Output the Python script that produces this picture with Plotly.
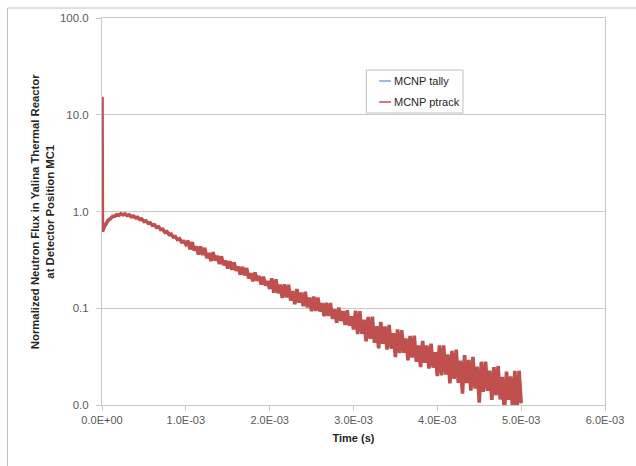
import plotly.graph_objects as go

# ---------------- data ----------------
# sampling of the ptrack series: t = 0, 0.005 ms, then every 0.025 ms up to 5.0 ms
ptrack_time_ms = [0.0, 0.005] + [round(0.025 * k, 3) for k in range(1, 201)]

ptrack_start = [15.3, 0.62]
ptrack_0_1ms = [0.69, 0.75, 0.815, 0.84, 0.89, 0.895, 0.925, 0.915, 0.945, 0.925,
                0.94, 0.91, 0.925, 0.885, 0.90, 0.86, 0.87, 0.825, 0.835, 0.79,
                0.80, 0.755, 0.765, 0.72, 0.73, 0.685, 0.695, 0.65, 0.655, 0.61,
                0.62, 0.578, 0.585, 0.545, 0.552, 0.512, 0.522, 0.484, 0.492, 0.458]
ptrack_1_2ms = [0.498, 0.406, 0.483, 0.395, 0.436, 0.360, 0.435, 0.355, 0.421, 0.330,
                0.373, 0.308, 0.380, 0.311, 0.349, 0.286, 0.344, 0.279, 0.311, 0.257,
                0.307, 0.250, 0.297, 0.244, 0.269, 0.223, 0.268, 0.219, 0.260, 0.204,
                0.230, 0.190, 0.234, 0.192, 0.215, 0.176, 0.212, 0.172, 0.191, 0.158]
ptrack_2_3ms = [0.204, 0.145, 0.199, 0.143, 0.176, 0.128, 0.177, 0.129, 0.175, 0.120,
                0.151, 0.110, 0.158, 0.114, 0.145, 0.105, 0.148, 0.102, 0.129, 0.0932,
                0.132, 0.0935, 0.129, 0.0924, 0.113, 0.0828, 0.114, 0.0830, 0.113, 0.0776,
                0.0976, 0.0707, 0.102, 0.0737, 0.0936, 0.0672, 0.0952, 0.0660, 0.0827, 0.0602]
ptrack_3_4ms = [0.0945, 0.0540, 0.0931, 0.0543, 0.0764, 0.0454, 0.0813, 0.0484, 0.0819, 0.0440,
                0.0651, 0.0386, 0.0722, 0.0429, 0.0648, 0.0374, 0.0674, 0.0382, 0.0553, 0.0313,
                0.0603, 0.0344, 0.0594, 0.0346, 0.0488, 0.0290, 0.0518, 0.0309, 0.0522, 0.0280,
                0.0414, 0.0246, 0.0460, 0.0273, 0.0412, 0.0238, 0.0431, 0.0243, 0.0352, 0.0199]
ptrack_4_5ms = [0.0414, 0.0203, 0.0413, 0.0206, 0.0334, 0.0167, 0.0363, 0.0186, 0.0374, 0.0169,
                0.0288, 0.0131, 0.0328, 0.0168, 0.0293, 0.0141, 0.0315, 0.0148, 0.0250, 0.0106,
                0.0280, 0.0137, 0.0280, 0.0140, 0.0226, 0.0113, 0.0246, 0.0126, 0.0253, 0.0114,
                0.0195, 0.0081, 0.0221, 0.0113, 0.0198, 0.0082, 0.0226, 0.0089, 0.0226, 0.0104]
ptrack_flux = ptrack_start + ptrack_0_1ms + ptrack_1_2ms + ptrack_2_3ms + ptrack_3_4ms + ptrack_4_5ms

tally_time_ms = [0.0, 0.1, 0.25, 0.5, 0.75, 1.0, 1.25, 1.5, 1.75, 2.0, 2.25,
                 2.5, 2.75, 3.0, 3.25, 3.5, 3.75, 4.0, 4.25, 4.5, 4.75, 5.0]
tally_flux = [0.62, 0.851, 0.933, 0.804, 0.624, 0.468, 0.367, 0.289, 0.227, 0.178, 0.143,
              0.115, 0.0924, 0.0743, 0.0594, 0.0474, 0.0379, 0.0302, 0.0248, 0.0204, 0.0168, 0.0138]

series_names = ["MCNP tally", "MCNP ptrack"]
series_colors = ["#7fa6d2", "#c0504d"]

x_tick_vals = [0.0, 0.001, 0.002, 0.003, 0.004, 0.005, 0.006]
x_tick_text = ["0.0E+00", "1.0E-03", "2.0E-03", "3.0E-03", "4.0E-03", "5.0E-03", "6.0E-03"]
y_tick_vals = [0.01, 0.1, 1, 10, 100]
y_tick_text = ["0.0", "0.1", "1.0", "10.0", "100.0"]

# ---------------- figure ----------------
FONT = "Liberation Sans"
GRID = "#c8c8c8"
TXT = "#595959"

fig = go.Figure()
fig.add_trace(go.Scatter(
    x=[t / 1000 for t in tally_time_ms], y=tally_flux, mode="lines",
    name=series_names[0], showlegend=False, line=dict(color=series_colors[0], width=1.5)))
fig.add_trace(go.Scatter(
    x=[t / 1000 for t in ptrack_time_ms], y=ptrack_flux, mode="lines",
    name=series_names[1], showlegend=False, line=dict(color=series_colors[1], width=3.6)))

fig.update_layout(
    width=636, height=466,
    margin=dict(l=102, r=24, t=18, b=61),
    paper_bgcolor="white", plot_bgcolor="white",
    font=dict(family=FONT, size=11, color=TXT),
    showlegend=False,
)
fig.update_xaxes(
    range=[0, 0.006], tickvals=x_tick_vals, ticktext=x_tick_text,
    showgrid=False, zeroline=False,
    showline=True, linecolor=GRID, linewidth=1, mirror=True,
    ticks="outside", ticklen=5, tickcolor=GRID,
    tickfont=dict(family=FONT, size=11, color=TXT),
    title=dict(text="<b>Time (s)</b>", font=dict(family=FONT, size=11, color="#262626"), standoff=9),
)
fig.update_yaxes(
    type="log", range=[-2, 2], tickvals=y_tick_vals, ticktext=y_tick_text,
    showgrid=True, gridcolor=GRID, gridwidth=1, zeroline=False,
    showline=True, linecolor=GRID, linewidth=1, mirror=True,
    ticks="outside", ticklen=5, tickcolor=GRID, ticklabelstandoff=5,
    tickfont=dict(family=FONT, size=11.5, color=TXT),
)
fig.add_annotation(
    xref="paper", yref="paper", x=-0.118, y=0.5, textangle=-90,
    text="<b>Normalized Neutron Flux in Yalina Thermal Reactor<br>at Detector Position MC1</b>",
    showarrow=False, font=dict(family=FONT, size=11.3, color="#262626"),
    xanchor="center", yanchor="middle", align="center")

# legend box drawn like the original (short thin sample lines)
fig.add_shape(type="rect", xref="paper", yref="paper", x0=0.5255, x1=0.7176, y0=0.7545, y1=0.8656,
              line=dict(color="#bfbfbf", width=1), fillcolor="white", layer="above")
legend_rows_y = [0.8372, 0.7829]
for name, color, ly in zip(series_names, series_colors, legend_rows_y):
    fig.add_shape(type="line", xref="paper", yref="paper", x0=0.551, x1=0.5745, y0=ly, y1=ly,
                  line=dict(color=color, width=1.5), layer="above")
    fig.add_annotation(xref="paper", yref="paper", x=0.5765, y=ly, text=name, showarrow=False,
                       xanchor="left", yanchor="middle",
                       font=dict(family=FONT, size=11, color="#262626"))

# outer chart border (top and left edges visible in the picture)
fig.add_shape(type="line", xref="paper", yref="paper", x0=-0.188, x1=1.1, y0=1.0258, y1=1.0258,
              line=dict(color="#bfbfbf", width=1))
fig.add_shape(type="line", xref="paper", yref="paper", x0=-0.188, x1=-0.188, y0=-0.2, y1=1.0258,
              line=dict(color="#bfbfbf", width=1))

fig.write_html("out.html")
